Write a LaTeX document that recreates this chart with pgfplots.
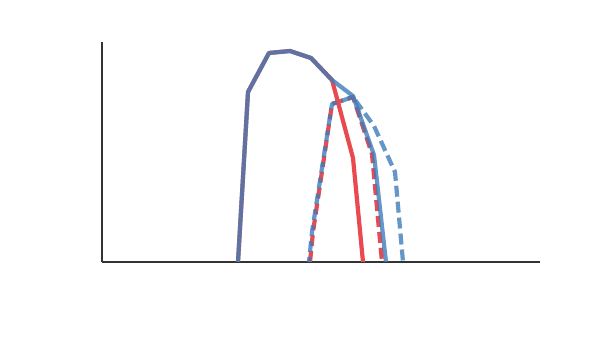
\documentclass[border=0pt]{standalone}
\usepackage{pgfplots}
\pgfplotsset{compat=1.18}
\definecolor{lred}{RGB}{232,74,79}
\definecolor{lblue}{RGB}{62,124,186}
\definecolor{spine}{RGB}{51,51,51}
\begin{document}
\begin{tikzpicture}[x=1pt,y=1pt]
\useasboundingbox (0,0) rectangle (600,350);
\begin{axis}[
  at={(102pt,88pt)}, anchor=origin,
  scale only axis,
  width=438pt, height=220pt,
  xmin=102, xmax=540,
  ymin=0, ymax=220,
  axis x line=bottom, axis y line=left,
  axis line style={spine, line width=1.5pt, -},
  xtick=\empty, ytick=\empty,
  clip=true,
  every axis plot/.append style={line width=4.2pt, line join=round, mark=none},
]
% red solid
\addplot[lred] coordinates {
  (238,0) (248,170) (269,209) (290,211) (311,204) (332,182) (353,104) (363,0)
};
% red dashed
\addplot[lred, dash pattern=on 11pt off 5pt] coordinates {
  (310,0) (313,30) (332,158) (353,165) (372,108) (382,0)
};
% blue solid
\addplot[lblue, opacity=0.8] coordinates {
  (238,0) (248,170) (269,209) (290,211) (311,204) (332,182) (353,166) (374,107) (386,0)
};
% blue dashed
\addplot[lblue, opacity=0.8, dash pattern=on 11pt off 5pt, dash phase=6pt] coordinates {
  (309,0) (312,30) (332,158) (353,165) (374,136) (395,90) (403,0)
};
\end{axis}
\end{tikzpicture}
\end{document}
